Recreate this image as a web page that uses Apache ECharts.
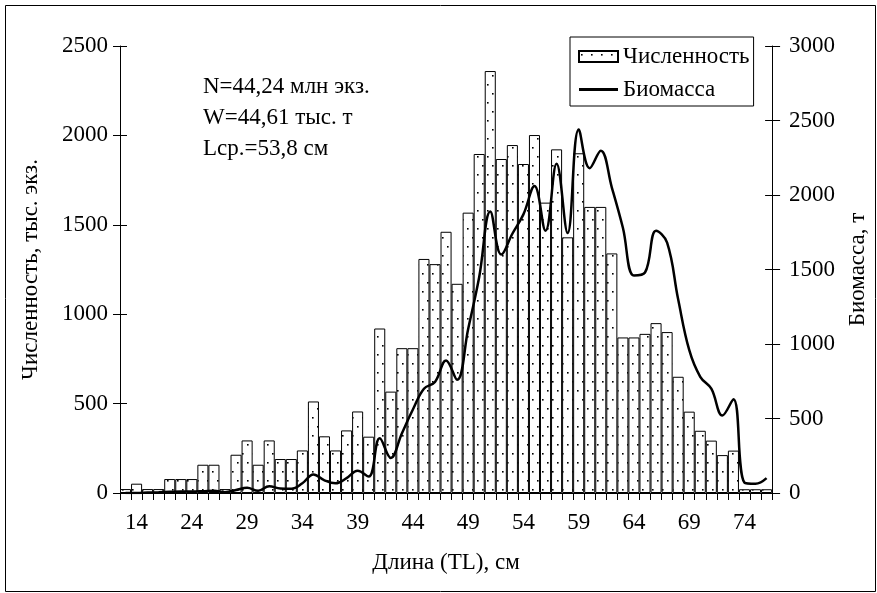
<!DOCTYPE html>
<html><head><meta charset="utf-8">
<script src="https://cdn.jsdelivr.net/npm/echarts@6/dist/echarts.min.js"></script>
<style>html,body{margin:0;padding:0;background:#fff}#c{width:877px;height:593px}</style>
</head><body><div id="c"></div>
<script>
// Length classes (cm)
const categories = ['13','14','16','18','20','22','24','25','26','27','28','29','30','31','32','33','34','35','36','37','38','39','40','41','42','43','44','45','46','47','48','49','50','51','52','53','54','55','56','57','58','59','60','61','62','63','64','65','66','67','68','69','70','71','72','73','74','75','76'];
// Численность, тыс. экз.
const abundance = [22,52,22,22,78,78,78,158,158,22,214,294,158,294,190,190,238,512,317,238,350,456,315,920,567,810,810,1309,1280,1461,1170,1568,1896,2360,1868,1946,1840,2002,1624,1922,1430,1900,1600,1600,1340,870,870,890,950,900,650,455,348,293,212,237,21,21,21];
// Биомасса, т
const biomass = [0,0,3,5,8,10,10,12,15,5,20,35,15,45,30,28,65,125,85,65,100,150,110,367,235,400,560,700,745,890,760,1100,1450,1890,1600,1740,1870,2060,1760,2210,1745,2440,2180,2297,2050,1780,1460,1480,1760,1680,1300,960,780,700,520,630,70,62,100];
const seriesNames = ['Численность','Биомасса'];
const annotation = ['N=44,24 млн экз.','W=44,61 тыс. т','Lcp.=53,8 см'];

const FONT = 'Liberation Serif';
const FS = 23;
function makePattern(){
  const c = document.createElement('canvas'); c.width = 10; c.height = 18;
  const g = c.getContext('2d');
  g.fillStyle = '#fff'; g.fillRect(0,0,10,18);
  g.fillStyle = '#000'; g.fillRect(2,3,1.6,1.6); g.fillRect(7,12,1.6,1.6);
  return c;
}
const pattern = {image: makePattern(), repeat: 'repeat'};
const chart = echarts.init(document.getElementById('c'), null, {renderer:'canvas'});
const lbl = {fontFamily: FONT, fontSize: FS, color: '#000'};
const axisLine = {show:true, lineStyle:{color:'#000', width:1}};
const plain = function(v){ return String(v); };
chart.setOption({
  animation: false,
  backgroundColor: '#fff',
  textStyle: {fontFamily: FONT},
  grid: {left: 120, right: 103, top: 46, bottom: 100, containLabel: false},
  legend: {
    left: 570, top: 37, orient: 'vertical',
    backgroundColor: '#fff', borderColor: '#000', borderWidth: 1,
    padding: [8, 4, 5, 8], itemGap: 10, itemWidth: 39, itemHeight: 11,
    textStyle: {fontFamily: FONT, fontSize: FS, color: '#000'},
    data: [
      {name: seriesNames[0], icon: 'rect'},
      {name: seriesNames[1], icon: 'path://M0,0 L42,0 L42,3 L0,3 Z'}
    ]
  },
  xAxis: {
    type: 'category', data: categories, boundaryGap: true,
    name: 'Длина (TL), см', nameLocation: 'middle', nameGap: 58,
    nameTextStyle: lbl,
    axisLine: axisLine,
    axisTick: {show: true, interval: 0, length: 7, lineStyle:{color:'#000'}},
    axisLabel: Object.assign({interval: function(i){return i % 5 === 1;}, margin: 18}, lbl),
    splitLine: {show: false}
  },
  yAxis: [
    {type:'value', min:0, max:2500, interval:500, position:'left',
     name: 'Численность, тыс. экз.', nameLocation:'middle', nameGap: 78, nameRotate: 90,
     nameTextStyle: lbl,
     axisLine: axisLine, axisTick:{show:true, length:7, lineStyle:{color:'#000'}},
     axisLabel: Object.assign({margin: 12, formatter: plain}, lbl), splitLine:{show:false}},
    {type:'value', min:0, max:3000, interval:500, position:'right',
     name: 'Биомасса, т', nameLocation:'middle', nameGap: 72, nameRotate: 90,
     nameTextStyle: lbl,
     axisLine: axisLine, axisTick:{show:true, length:8, lineStyle:{color:'#000'}},
     axisLabel: Object.assign({margin: 17, formatter: plain}, lbl), splitLine:{show:false}},
    {type:'value', min:0, max:2500, interval:500, position:'left',
     axisLine:{show:false}, axisTick:{show:true, inside:true, length:7, lineStyle:{color:'#000'}},
     axisLabel:{show:false}, splitLine:{show:false}},
    {type:'value', min:0, max:3000, interval:500, position:'right',
     axisLine:{show:false}, axisTick:{show:true, inside:true, length:7, lineStyle:{color:'#000'}},
     axisLabel:{show:false}, splitLine:{show:false}}
  ],
  series: [
    {name: seriesNames[0], type:'bar', data: abundance, yAxisIndex: 0,
     barCategoryGap: '0%', barGap: '0%',
     itemStyle: {color: pattern, borderColor:'#000', borderWidth: 1}},
    {name: seriesNames[1], type:'line', data: biomass, yAxisIndex: 1,
     smooth: 0.4, symbol: 'none', showSymbol: false,
     lineStyle: {color:'#000', width: 2.5}, itemStyle:{color:'#000'}}
  ],
  graphic: [
    {type:'rect', left: 3, top: 3, z: -10, silent: true,
     shape:{x:0, y:0, width: 870, height: 586},
     style:{fill:'none', stroke:'#000', lineWidth:1}},
    {type:'text', left: 203, top: 71, silent: true,
     style:{text: annotation.join('\n'), fontFamily: FONT, fontSize: FS, lineHeight: 31.3, fill:'#000'}}
  ]
});
</script></body></html>
